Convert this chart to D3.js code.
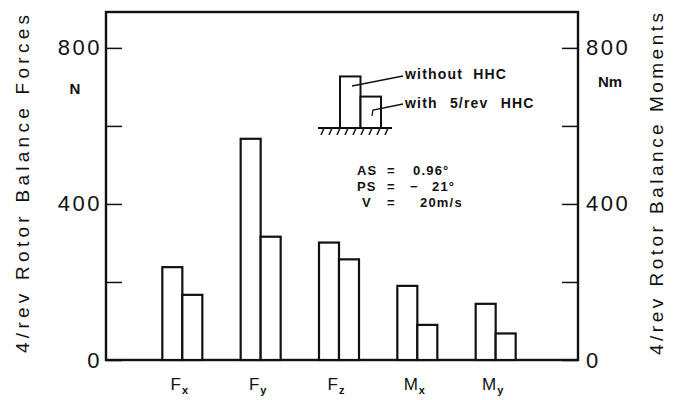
<!DOCTYPE html>
<html lang="en">
<head>
<meta charset="UTF-8">
<title>4/rev rotor balance loads</title>
<script src="https://d3js.org/d3.v7.min.js"></script>
<style>
  body { margin: 0; background: #fff; }
  text { font-family: "Liberation Sans", Arial, sans-serif; fill: #111; }
</style>
</head>
<body>
<svg id="chart" width="684" height="400"></svg>
<script>
  // data
  var categories = ["Fx", "Fy", "Fz", "Mx", "My"];
  var catMain = ["F", "F", "F", "M", "M"];
  var catSub = ["x", "y", "z", "x", "y"];
  var series = ["without", "with"];
  var withoutHHC = [238, 567, 301, 190, 144];
  var withHHC = [167, 316, 258, 90, 68];
  var tickValues = [0, 200, 400, 600, 800];
  var tickLabels = ["0", "", "400", "", "800"];
  var paramNames = ["AS", "PS", "V"];
  var paramMinus = ["", "\u2212", ""];
  var paramValues = ["0.96°", "21°", "20m/s"];

  var svg = d3.select("#chart");
  var plotL = 106, plotR = 578, plotT = 12, plotB = 360;

  var y = d3.scaleLinear().domain([0, 892]).range([plotB, plotT]);
  var x = d3.scalePoint().domain(categories).range([104, 574]).padding(1);
  var xs = d3.scaleBand().domain(series).range([-20, 20]);

  var rows = categories.map(function (c, i) {
    return { cat: c, without: withoutHHC[i], with: withHHC[i] };
  });

  // frame
  svg.append("rect")
    .attr("x", plotL).attr("y", plotT)
    .attr("width", plotR - plotL).attr("height", plotB - plotT)
    .attr("fill", "none").attr("stroke", "#111").attr("stroke-width", 2.4);

  // bars
  var g = svg.append("g");
  rows.forEach(function (r) {
    series.forEach(function (s) {
      g.append("rect")
        .attr("x", x(r.cat) + xs(s))
        .attr("y", y(r[s]))
        .attr("width", xs.bandwidth())
        .attr("height", plotB - y(r[s]))
        .attr("fill", "#fff")
        .attr("stroke", "#111")
        .attr("stroke-width", 2.2);
    });
  });

  // axes, ticks pointing inward
  var fmt = function (d, i) { return tickLabels[i]; };
  var yl = svg.append("g").attr("transform", "translate(" + plotL + ",0)")
    .call(d3.axisLeft(y).tickValues(tickValues).tickSize(-16).tickPadding(4).tickFormat(fmt));
  var yr = svg.append("g").attr("transform", "translate(" + plotR + ",0)")
    .call(d3.axisRight(y).tickValues(tickValues).tickSize(-16).tickPadding(8).tickFormat(fmt));
  [yl, yr].forEach(function (a) {
    a.select(".domain").remove();
    a.selectAll(".tick line").attr("stroke", "#111").attr("stroke-width", 1.5);
    a.selectAll(".tick text")
      .attr("font-size", 22).attr("letter-spacing", 2.5)
      .style("font-family", "Liberation Sans, Arial, sans-serif").attr("fill", "#111");
  });

  // units
  svg.append("text").attr("x", 75).attr("y", 94).attr("text-anchor", "middle")
    .attr("font-size", 15).attr("font-weight", "bold").text("N");
  svg.append("text").attr("x", 610).attr("y", 87).attr("text-anchor", "middle")
    .attr("font-size", 15).attr("font-weight", "bold").text("Nm");

  // axis titles
  svg.append("text")
    .attr("transform", "translate(29,184) rotate(-90)")
    .attr("text-anchor", "middle").attr("font-size", 19)
    .attr("textLength", 338).attr("lengthAdjust", "spacing")
    .text("4/rev Rotor Balance Forces");
  svg.append("text")
    .attr("transform", "translate(663,184) rotate(-90)")
    .attr("text-anchor", "middle").attr("font-size", 19)
    .attr("textLength", 342).attr("lengthAdjust", "spacing")
    .text("4/rev Rotor Balance Moments");

  // category labels
  categories.forEach(function (c, i) {
    var t = svg.append("text")
      .attr("x", x(c) - 3).attr("y", 390)
      .attr("text-anchor", "middle").attr("font-size", 17);
    t.append("tspan").text(catMain[i]);
    t.append("tspan").attr("font-size", 11).attr("font-weight", "bold")
      .attr("dx", 1).attr("dy", 4).text(catSub[i]);
  });

  // legend sketch
  var lg = svg.append("g");
  var legVals = [{ s: "without", v: 640 }, { s: "with", v: 390 }];
  var lx = d3.scaleBand().domain(series).range([340, 381]);
  var ly = d3.scaleLinear().domain([0, 720]).range([128, 70]);
  legVals.forEach(function (d) {
    lg.append("rect")
      .attr("x", lx(d.s)).attr("y", ly(d.v))
      .attr("width", lx.bandwidth()).attr("height", 128 - ly(d.v))
      .attr("fill", "#fff").attr("stroke", "#111").attr("stroke-width", 2);
  });
  lg.append("line").attr("x1", 318).attr("x2", 392).attr("y1", 128).attr("y2", 128)
    .attr("stroke", "#111").attr("stroke-width", 2);
  lg.selectAll("line.hatch").data(d3.range(322, 392, 8)).enter().append("line")
    .attr("class", "hatch")
    .attr("x1", function (d) { return d + 2; }).attr("y1", 128)
    .attr("x2", function (d) { return d - 1; }).attr("y2", 135)
    .attr("stroke", "#111").attr("stroke-width", 1.5);
  lg.append("path").attr("d", "M352,86 L403,76").attr("fill", "none")
    .attr("stroke", "#111").attr("stroke-width", 1.3);
  lg.append("path").attr("d", "M372,116 L373,110 L403,104").attr("fill", "none")
    .attr("stroke", "#111").attr("stroke-width", 1.3);
  lg.append("text").attr("x", 405).attr("y", 79).attr("font-size", 14)
    .attr("font-weight", "bold").attr("letter-spacing", 1.2).attr("word-spacing", 5)
    .text("without HHC");
  lg.append("text").attr("x", 405).attr("y", 108).attr("font-size", 14)
    .attr("font-weight", "bold").attr("letter-spacing", 1.2).attr("word-spacing", 7)
    .text("with 5/rev HHC");

  // test conditions
  paramNames.forEach(function (n, i) {
    var yy = 175 + i * 16;
    var pt = function (px, s) {
      svg.append("text").attr("x", px).attr("y", yy)
        .attr("font-size", 13).attr("font-weight", "bold").attr("letter-spacing", 1.2).text(s);
    };
    pt(n === "V" ? 362 : 357, n);
    pt(387, "=");
    if (paramMinus[i]) pt(410, paramMinus[i]);
    pt(n === "AS" ? 413 : n === "PS" ? 432 : 420, paramValues[i]);
  });
</script>
</body>
</html>
